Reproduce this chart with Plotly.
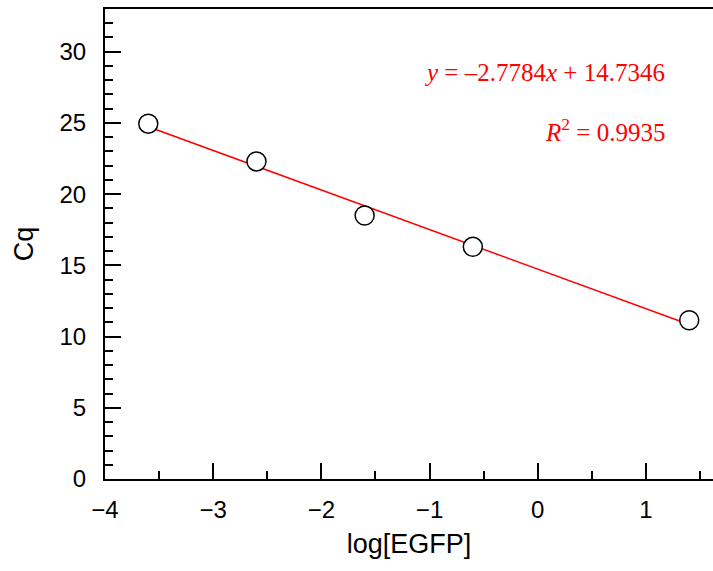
import plotly.graph_objects as go

# measured points (log[EGFP] vs Cq)
log_egfp = [-3.6, -2.6, -1.6, -0.6, 1.4]
cq_values = [24.95, 22.3, 18.5, 16.3, 11.15]

# linear fit endpoints, y = -2.7784x + 14.7346
fit_x = [-3.6, 1.4]
fit_y = [24.737, 10.845]

equation_text = "<i>y</i> = –2.7784<i>x</i> + 14.7346"
r2_text = "<i>R</i><sup>2</sup> = 0.9935"

tick_font = dict(family="Liberation Sans, Arial, sans-serif", size=24, color="black")
title_font = dict(family="Liberation Sans, Arial, sans-serif", size=27, color="black")
note_font = dict(family="Liberation Serif, DejaVu Serif, serif", size=25, color="red")

fig = go.Figure()
fig.add_trace(go.Scatter(
    x=fit_x,
    y=fit_y,
    mode="lines",
    line=dict(color="red", width=1.5),
    showlegend=False,
))
fig.add_trace(go.Scatter(
    x=log_egfp,
    y=cq_values,
    mode="markers",
    marker=dict(size=19, color="white", line=dict(color="black", width=1.5)),
    showlegend=False,
))

fig.add_annotation(
    text=equation_text, xref="paper", yref="paper", x=0.924, y=0.864,
    xanchor="right", yanchor="middle", showarrow=False, font=note_font,
)
fig.add_annotation(
    text=r2_text, xref="paper", yref="paper", x=0.924, y=0.743,
    xanchor="right", yanchor="middle", showarrow=False, font=note_font,
)

fig.update_xaxes(
    range=[-4, 1.62],
    tickvals=[-4, -3, -2, -1, 0, 1],
    ticktext=["−4", "−3", "−2", "−1", "0", "1"],
    ticks="inside", ticklen=16, tickwidth=1.5, tickcolor="black",
    minor=dict(dtick=0.5, ticks="inside", ticklen=8, tickwidth=1.5, tickcolor="black"),
    showline=True, linecolor="black", linewidth=2, mirror=True,
    showgrid=False, zeroline=False, automargin=False,
    tickfont=tick_font, ticklabelstandoff=8,
    title=dict(text="log[EGFP]", font=title_font, standoff=12),
)
fig.update_yaxes(
    range=[0, 33],
    tickvals=[0, 5, 10, 15, 20, 25, 30],
    ticks="inside", ticklen=16, tickwidth=1.5, tickcolor="black",
    minor=dict(dtick=1, ticks="inside", ticklen=8, tickwidth=1.5, tickcolor="black"),
    showline=True, linecolor="black", linewidth=2,
    showgrid=False, zeroline=False, automargin=False,
    tickfont=tick_font, ticklabelstandoff=12,
    title=dict(text="Cq", font=title_font, standoff=18),
)
fig.update_layout(
    width=713,
    height=571,
    margin=dict(l=105, r=0, t=9, b=92),
    plot_bgcolor="white",
    paper_bgcolor="white",
)

# drop the page's default body margin so the figure sits at the window's corner
fig.write_html(
    "out.html",
    config={"displayModeBar": False},
    post_script="document.body.style.margin='0';document.body.style.overflow='hidden';",
)
